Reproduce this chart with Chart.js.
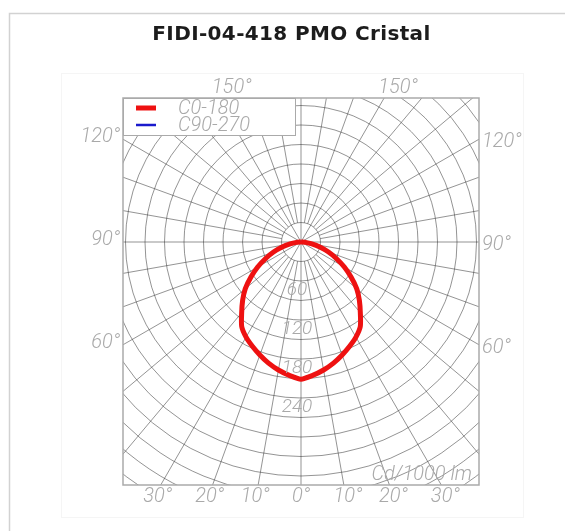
<!DOCTYPE html>
<html><head><meta charset="utf-8">
<script src="https://cdn.jsdelivr.net/npm/chart.js@4/dist/chart.umd.min.js"></script>
<style>
html,body{margin:0;padding:0;background:#fff;}
#wrap{position:relative;width:565px;height:531px;overflow:hidden;}
canvas{position:absolute;left:0;top:0;}
</style></head><body>
<div id="wrap"><canvas id="c" width="565" height="531"></canvas></div>
<script>
// ---------- data ----------
const chartTitle = 'FIDI-04-418 PMO Cristal';
const seriesLabels = ['C0-180', 'C90-270'];
const gammaAngles = [0,5,10,15,20,25,30,35,40,45,50,55,60,65,70,75,80,85,90];
const c0   = [211,206,200,193,185,177,169,159,142,127,112,94,77,60,45,30,17,7,0];
const c180 = [211,206,200,193,185,177,169,159,142,127,112,94,77,60,45,30,17,7,0];
const c90  = [211,206,200,193,185,177,169,159,142,127,112,94,77,60,45,30,17,7,0];
const c270 = [211,206,200,193,185,177,169,159,142,127,112,94,77,60,45,30,17,7,0];
const ringValues = [30,60,90,120,150,180,210,240,270,300,330,360,390,420,450,480];
const ringLabels = [60,120,180,240];
const bottomAngles = [-30,-20,-10,0,10,20,30];
const sideAngles = [60,90,120];
const topAngles = [150];
const unitLabel = 'Cd/1000 lm';

// ---------- layout ----------
const W = 565, H = 531;
const CX = 301, CY = 242, PPU = 0.65;
const PAD_LEFT = 18, TITLE_BOTTOM = 47;
const FRAME = {left:123, top:98, right:479, bottom:485};
const LEGEND_RIGHT = 295, LEGEND_BOTTOM = 135;
const GRID = 'rgba(60,60,60,0.55)';
const LABEL = '#a9a9a9';
const LABEL_FONT = 'italic 300 20px Roboto, "DejaVu Sans", sans-serif';
const TITLE_FONT = { family: '"DejaVu Sans", "Open Sans", sans-serif', size: 20, weight: 'bold', lineHeight: 1.2 };
const TITLE_WIDTH = 278;

const mctx = document.createElement('canvas').getContext('2d');
mctx.font = 'bold 20px "DejaVu Sans", "Open Sans", sans-serif';
const titleSpacing = (TITLE_WIDTH - mctx.measureText(chartTitle).width) / (chartTitle.length - 1);

function toXY(theta, I, side){
  const t = theta*Math.PI/180;
  return {x: side*I*Math.sin(t), y: -I*Math.cos(t)};
}
function planePoints(leftVals, rightVals){
  const pts = [];
  for (let i = gammaAngles.length-1; i >= 0; i--) pts.push(toXY(gammaAngles[i], leftVals[i], -1));
  for (let i = 1; i < gammaAngles.length; i++) pts.push(toXY(gammaAngles[i], rightVals[i], 1));
  return pts;
}

const polarPlugin = {
  id: 'polarGrid',
  beforeDraw(chart){
    const ctx = chart.ctx;
    ctx.save();
    ctx.fillStyle = '#fff'; ctx.fillRect(0,0,chart.width,chart.height);
    ctx.strokeStyle = '#d2d2d2'; ctx.lineWidth = 1.5;
    ctx.strokeRect(9.5, 13.5, 800, 800);
    ctx.strokeStyle = '#f5f5f5'; ctx.lineWidth = 1;
    ctx.strokeRect(61.5, 73.5, 462, 444);
    ctx.restore();
    if ('letterSpacing' in ctx) ctx.letterSpacing = Math.max(-1, Math.min(2, titleSpacing)).toFixed(2) + 'px';
  },
  beforeDatasetsDraw(chart){
    const ctx = chart.ctx, xs = chart.scales.x, ys = chart.scales.y;
    if ('letterSpacing' in ctx) ctx.letterSpacing = '0px';
    const ox = xs.getPixelForValue(0), oy = ys.getPixelForValue(0);
    const k = xs.getPixelForValue(1) - ox;
    ctx.save();
    ctx.beginPath();
    ctx.rect(FRAME.left, FRAME.top, FRAME.right-FRAME.left, FRAME.bottom-FRAME.top);
    ctx.clip();
    ctx.strokeStyle = GRID; ctx.lineWidth = 1;
    ringValues.forEach(r => {
      ctx.beginPath(); ctx.arc(ox, oy, r*k, 0, Math.PI*2); ctx.stroke();
    });
    for (let a = 0; a < 360; a += 10) {
      const major = a % 30 === 0;
      const r0 = major ? 0 : ringValues[0];
      const p0 = toXY(a, r0, 1), p1 = toXY(a, 1000, 1);
      ctx.beginPath();
      ctx.moveTo(xs.getPixelForValue(p0.x), ys.getPixelForValue(p0.y));
      ctx.lineTo(xs.getPixelForValue(p1.x), ys.getPixelForValue(p1.y));
      ctx.stroke();
    }
    ctx.restore();
    ctx.save();
    ctx.strokeStyle = '#aaaaaa'; ctx.lineWidth = 1.5;
    ctx.strokeRect(FRAME.left, FRAME.top, FRAME.right-FRAME.left, FRAME.bottom-FRAME.top);
    ctx.restore();
  },
  afterDatasetsDraw(chart){
    const ctx = chart.ctx, xs = chart.scales.x, ys = chart.scales.y;
    const ox = xs.getPixelForValue(0), oy = ys.getPixelForValue(0);
    ctx.save();
    ctx.fillStyle = '#fff';
    ctx.fillRect(FRAME.left, FRAME.top, LEGEND_RIGHT-FRAME.left, LEGEND_BOTTOM-FRAME.top);
    ctx.strokeStyle = '#aaaaaa'; ctx.lineWidth = 1;
    ctx.strokeRect(FRAME.left+0.5, FRAME.top+0.5, LEGEND_RIGHT-FRAME.left, LEGEND_BOTTOM-FRAME.top);
    chart.data.datasets.forEach((ds, i) => {
      const y = 108 + i*17;
      ctx.strokeStyle = ds.borderColor; ctx.lineWidth = ds.borderWidth;
      ctx.beginPath(); ctx.moveTo(136, y); ctx.lineTo(156, y); ctx.stroke();
      ctx.fillStyle = LABEL; ctx.font = LABEL_FONT;
      ctx.textAlign = 'left'; ctx.textBaseline = 'middle';
      ctx.fillText(ds.label, 178, y+1);
    });
    ctx.fillStyle = LABEL; ctx.font = LABEL_FONT;
    ctx.textBaseline = 'middle';
    const hitX = (a, xEdge) => {
      const t = a*Math.PI/180;
      const dx = Math.abs(xEdge - ox);
      return oy + dx/Math.tan(t);
    };
    sideAngles.forEach(a => {
      const yl = hitX(a, FRAME.left);
      ctx.textAlign = 'right'; ctx.fillText(a + '°', FRAME.left - 3, yl - 2);
      const yr = hitX(a, FRAME.right);
      ctx.textAlign = 'left'; ctx.fillText(a + '°', FRAME.right + 3, yr + 3);
    });
    topAngles.forEach(a => {
      const t = a*Math.PI/180;
      const dy = oy - FRAME.top;
      const dx = dy*Math.tan(Math.PI - t);
      ctx.textAlign = 'left'; ctx.textBaseline = 'alphabetic';
      ctx.fillText(a + '°', ox - dx - 6, FRAME.top - 5);
      ctx.fillText(a + '°', ox + dx - 6, FRAME.top - 5);
    });
    ctx.textBaseline = 'middle'; ctx.textAlign = 'center';
    bottomAngles.forEach(a => {
      const t = a*Math.PI/180;
      const x = ox + (FRAME.bottom - oy)*Math.tan(t);
      ctx.fillText(Math.abs(a) + '°', x + (a > 0 ? 4 : a < 0 ? -3 : 0), FRAME.bottom + 12);
    });
    ctx.font = 'italic 300 19px Roboto, "DejaVu Sans", sans-serif';
    ctx.textAlign = 'center';
    ringLabels.forEach(v => {
      const y = ys.getPixelForValue(-v);
      ctx.fillText(String(v), ox - 4, y + 9);
    });
    ctx.font = LABEL_FONT; ctx.textAlign = 'right'; ctx.textBaseline = 'alphabetic';
    ctx.fillText(unitLabel, 472, 480);
    ctx.restore();
  }
};

new Chart(document.getElementById('c'), {
  type: 'scatter',
  data: {
    datasets: [
      { label: seriesLabels[0], data: planePoints(c180, c0), showLine: true, tension: 0.25,
        borderColor: '#ee1111', borderWidth: 5, pointRadius: 0, fill: false },
      { label: seriesLabels[1], data: planePoints(c270, c90), showLine: true, tension: 0.25,
        borderColor: '#1a1acc', borderWidth: 2.5, pointRadius: 0, fill: false }
    ]
  },
  options: {
    responsive: false, animation: false, devicePixelRatio: 1,
    layout: { padding: { left: PAD_LEFT, right: 0, top: 0, bottom: 0 } },
    scales: {
      x: { type: 'linear', display: false, min: -(CX - PAD_LEFT)/PPU, max: (W - CX)/PPU },
      y: { type: 'linear', display: false, min: -(H - CY)/PPU, max: (CY - TITLE_BOTTOM)/PPU }
    },
    plugins: {
      legend: { display: false },
      tooltip: { enabled: false },
      title: { display: true, text: chartTitle, color: '#1c1c1c', font: TITLE_FONT,
        padding: { top: 23, bottom: 0 } }
    }
  },
  plugins: [polarPlugin]
});
</script>
</body></html>
